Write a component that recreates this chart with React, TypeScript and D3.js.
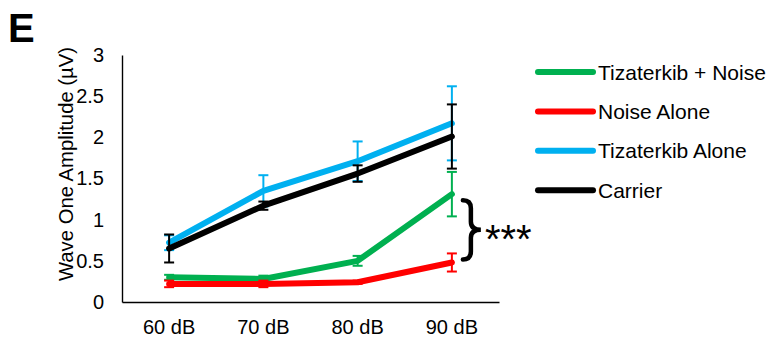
import React, { useEffect, useRef } from "react";
import * as d3 from "d3";

const categories = ["60 dB", "70 dB", "80 dB", "90 dB"];
const yTicks = [0, 0.5, 1, 1.5, 2, 2.5, 3];

const seriesNames = ["Tizaterkib + Noise", "Noise Alone", "Tizaterkib Alone", "Carrier"];
const seriesColors = ["#00B050", "#FF0000", "#00B0F0", "#000000"];

// mean values per category
const tizNoise = [0.3, 0.28, 0.5, 1.31];
const noiseAlone = [0.22, 0.22, 0.24, 0.48];
const tizAlone = [0.72, 1.35, 1.71, 2.17];
const carrier = [0.65, 1.17, 1.56, 2.01];

// error (+/-) per category
const tizNoiseErr = [0.03, 0.04, 0.06, 0.27];
const noiseAloneErr = [0.04, 0.04, 0.02, 0.11];
const tizAloneErr = [0.09, 0.19, 0.24, 0.45];
const carrierErr = [0.17, 0.05, 0.1, 0.39];

const FONT = "'Liberation Sans', Arial, sans-serif";

const App: React.FC = () => {
  const svgRef = useRef<SVGSVGElement | null>(null);

  useEffect(() => {
    if (!svgRef.current) return;
    const svg = d3.select(svgRef.current);
    svg.selectAll("*").remove();

    const left = 122;
    const right = 499;
    const top = 55;
    const bottom = 302;

    const x = d3.scaleBand().domain(categories).range([left, right]).padding(0);
    const cx = (c: string) => (x(c) || 0) + x.bandwidth() / 2;
    const y = d3.scaleLinear().domain([0, 3]).range([bottom, top]);

    // axes
    const yAxis = svg
      .append("g")
      .attr("transform", `translate(${left},0)`)
      .call(
        d3
          .axisLeft(y)
          .tickValues(yTicks)
          .tickSize(0)
          .tickPadding(18)
          .tickFormat((d) => String(d))
      );
    yAxis.select(".domain").attr("stroke", "#000").attr("stroke-width", 1.4);
    yAxis
      .selectAll(".tick text")
      .attr("font-family", FONT)
      .attr("font-size", 20)
      .attr("fill", "#000");

    const xAxis = svg
      .append("g")
      .attr("transform", `translate(0,${bottom})`)
      .call(d3.axisBottom(x).tickSize(0).tickPadding(18));
    xAxis.select(".domain").attr("stroke", "#000").attr("stroke-width", 1.4);
    xAxis
      .selectAll(".tick text")
      .attr("font-family", FONT)
      .attr("font-size", 20)
      .attr("fill", "#000");

    // axis title
    svg
      .append("text")
      .attr("transform", `translate(73,164) rotate(-90)`)
      .attr("text-anchor", "middle")
      .attr("font-family", FONT)
      .attr("font-size", 20.3)
      .text("Wave One Amplitude (µV)");

    // panel letter
    svg
      .append("text")
      .attr("x", 8)
      .attr("y", 42)
      .attr("font-family", FONT)
      .attr("font-weight", "bold")
      .attr("font-size", 40)
      .text("E");

    const means = [tizNoise, noiseAlone, tizAlone, carrier];
    const errs = [tizNoiseErr, noiseAloneErr, tizAloneErr, carrierErr];

    const line = d3
      .line<number>()
      .x((_, i) => cx(categories[i]))
      .y((d) => y(d));

    means.forEach((vals, s) => {
      const color = seriesColors[s];
      const g = svg.append("g");
      g.append("path")
        .attr("d", line(vals) || "")
        .attr("fill", "none")
        .attr("stroke", color)
        .attr("stroke-width", 6)
        .attr("stroke-linejoin", "round")
        .attr("stroke-linecap", "round");

      const eb = g
        .selectAll(".err")
        .data(vals.map((v, i) => ({ v, e: errs[s][i], c: categories[i] })))
        .join("g")
        .attr("stroke", color)
        .attr("stroke-width", 2);
      eb.append("line")
        .attr("x1", (d) => cx(d.c))
        .attr("x2", (d) => cx(d.c))
        .attr("y1", (d) => y(d.v - d.e))
        .attr("y2", (d) => y(d.v + d.e));
      eb.append("line")
        .attr("x1", (d) => cx(d.c) - 5)
        .attr("x2", (d) => cx(d.c) + 5)
        .attr("y1", (d) => y(d.v + d.e))
        .attr("y2", (d) => y(d.v + d.e));
      eb.append("line")
        .attr("x1", (d) => cx(d.c) - 5)
        .attr("x2", (d) => cx(d.c) + 5)
        .attr("y1", (d) => y(d.v - d.e))
        .attr("y2", (d) => y(d.v - d.e));
    });

    // significance brace between green and red at 90 dB
    const bx = cx(categories[3]) + 11;
    const yTop = y(tizNoise[3]) + 6;
    const yBot = y(noiseAlone[3]) - 3;
    const yMid = (yTop + yBot) / 2;
    const p = d3.path();
    p.moveTo(bx, yTop);
    p.quadraticCurveTo(bx + 8, yTop, bx + 8, yTop + 8);
    p.lineTo(bx + 8, yMid - 8);
    p.quadraticCurveTo(bx + 8, yMid, bx + 18, yMid);
    p.quadraticCurveTo(bx + 8, yMid, bx + 8, yMid + 8);
    p.lineTo(bx + 8, yBot - 8);
    p.quadraticCurveTo(bx + 8, yBot, bx, yBot);
    svg
      .append("path")
      .attr("d", p.toString())
      .attr("fill", "none")
      .attr("stroke", "#000")
      .attr("stroke-width", 4.5)
      .attr("stroke-linecap", "round");

    svg
      .append("text")
      .attr("x", bx + 22)
      .attr("y", yMid + 23)
      .attr("font-family", FONT)
      .attr("font-size", 40)
      .text("***");

    // legend
    const legend = svg
      .selectAll(".legend")
      .data(seriesNames)
      .join("g")
      .attr("transform", (_, i) => `translate(538,${72 + i * 39.4})`);
    legend
      .append("line")
      .attr("x1", 0)
      .attr("x2", 55)
      .attr("stroke", (_, i) => seriesColors[i])
      .attr("stroke-width", 6)
      .attr("stroke-linecap", "round");
    legend
      .append("text")
      .attr("x", 60)
      .attr("dy", "0.36em")
      .attr("font-family", FONT)
      .attr("font-size", 21)
      .text((d) => d);
  }, []);

  return (
    <svg
      ref={svgRef}
      width={772}
      height={339}
      style={{ position: "absolute", left: 0, top: 0, background: "#fff" }}
    />
  );
};

export default App;
